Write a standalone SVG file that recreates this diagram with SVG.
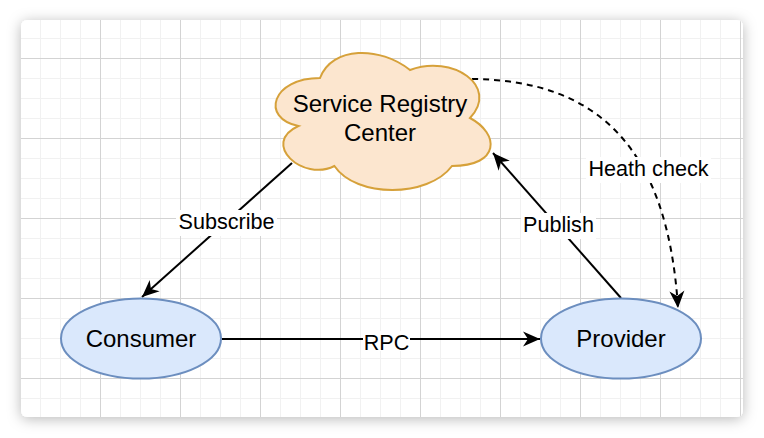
<svg xmlns="http://www.w3.org/2000/svg" width="764" height="438" viewBox="0 0 764 438">
  <defs>
    <filter id="shadow" x="-10%" y="-10%" width="120%" height="120%">
      <feDropShadow dx="0" dy="2" stdDeviation="7" flood-color="#000" flood-opacity="0.28"/>
    </filter>
    <pattern id="grid" patternUnits="userSpaceOnUse" x="20" y="-22" width="80" height="80">
      <rect x="20" y="0" width="1" height="80" fill="#f1f1f1"/>
      <rect x="40" y="0" width="1" height="80" fill="#f1f1f1"/>
      <rect x="60" y="0" width="1" height="80" fill="#f1f1f1"/>
      <rect x="0" y="20" width="80" height="1" fill="#f1f1f1"/>
      <rect x="0" y="40" width="80" height="1" fill="#f1f1f1"/>
      <rect x="0" y="60" width="80" height="1" fill="#f1f1f1"/>
      <rect x="0" y="0" width="1" height="80" fill="#d3d3d3"/>
      <rect x="0" y="0" width="80" height="1" fill="#d3d3d3"/>
    </pattern>
    <clipPath id="cardClip">
      <rect x="21" y="20" width="722" height="397" rx="6" ry="6"/>
    </clipPath>
    <marker id="arrow" viewBox="-18 -9 19 18" refX="0" refY="0" markerWidth="19" markerHeight="18" orient="auto" markerUnits="userSpaceOnUse">
      <path d="M0,0 L-17,-7.5 L-12,0 L-17,7.5 Z" fill="#000"/>
    </marker>
    <style>
      .edge { fill: none; stroke: #000; stroke-width: 2; }
      .dashed { stroke-dasharray: 6 5; }
      .label { font-family: "Liberation Sans", Arial, Helvetica, sans-serif; font-size: 21.6px; fill: #000; text-anchor: middle; }
      .ntext { font-family: "Liberation Sans", Arial, Helvetica, sans-serif; font-size: 24px; fill: #000; text-anchor: middle; }
      .blue { fill: #dae8fc; stroke: #6c8ebf; stroke-width: 2; }
      .orange { fill: #fce6cf; stroke: #d6a13a; stroke-width: 2; }
      .lbg { fill: #fff; }
    </style>
  </defs>

  <rect x="0" y="0" width="764" height="438" fill="#fff"/>
  <rect x="21" y="20" width="722" height="397" rx="6" ry="6" fill="#fff" filter="url(#shadow)"/>
  <rect x="21" y="20" width="722" height="397" fill="url(#grid)" clip-path="url(#cardClip)"/>

  <g id="connectors">
    <g id="edge-subscribe">
      <path class="edge" d="M292,163 L142,297" marker-end="url(#arrow)"/>
      <rect class="lbg" x="176" y="210" width="101" height="26"/>
      <text class="label" x="226.5" y="229">Subscribe</text>
    </g>
    <g id="edge-publish">
      <path class="edge" d="M621,298 L493,153" marker-end="url(#arrow)"/>
      <rect class="lbg" x="521" y="213" width="75" height="26"/>
      <text class="label" x="558.5" y="232">Publish</text>
    </g>
    <g id="edge-rpc">
      <path class="edge" d="M222,339 L540,339" marker-end="url(#arrow)"/>
      <rect class="lbg" x="363" y="331" width="47" height="20"/>
      <text class="label" x="386.5" y="350">RPC</text>
    </g>
    <g id="edge-health">
      <path class="edge dashed" d="M472,79 C600,80 668,150 678,308" marker-end="url(#arrow)"/>
      <rect class="lbg" x="586" y="157" width="125" height="26"/>
      <text class="label" x="648.5" y="176">Heath check</text>
    </g>
  </g>

  <g id="node-registry">
    <path class="orange" d="M320,78 C272,78 260,118 298.4,126 C260,143.6 303.2,182 334.4,166 C356,198 428,198 452,166 C500,166 500,134 470,118 C500,86 452,54 410,70 C380,46 332,46 320,78 Z"/>
    <text class="ntext" x="380" y="112">Service Registry</text>
    <text class="ntext" x="380" y="140.5">Center</text>
  </g>

  <g id="node-consumer">
    <ellipse class="blue" cx="141" cy="338.5" rx="80" ry="40"/>
    <text class="ntext" x="141" y="346.5">Consumer</text>
  </g>

  <g id="node-provider">
    <ellipse class="blue" cx="621" cy="338.5" rx="80" ry="40"/>
    <text class="ntext" x="621" y="346.5">Provider</text>
  </g>
</svg>
